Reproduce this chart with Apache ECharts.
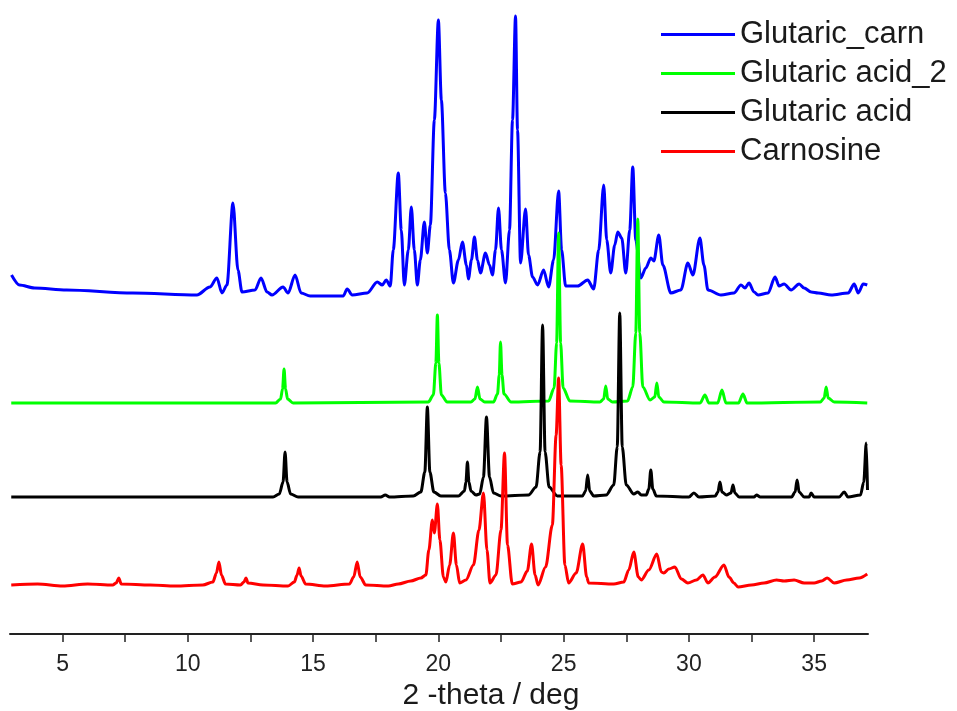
<!DOCTYPE html>
<html>
<head>
<meta charset="utf-8">
<script src="https://cdn.jsdelivr.net/npm/echarts@6/dist/echarts.min.js"></script>
<style>html,body{margin:0;padding:0;background:#fff}#chart{width:957px;height:711px}</style>
</head>
<body>
<div id="chart"></div>
<script>
// Series names (legend order)
const seriesNames = ['Glutaric_carn', 'Glutaric acid_2', 'Glutaric acid', 'Carnosine'];
const seriesColors = ['#0000ff', '#00ff00', '#000000', '#ff0000'];
// Vertical offsets used to stack the patterns
const offsets = [339, 231, 137, 49];

// x tick values (2-theta / deg)
const tickLabels = [5, 10, 15, 20, 25, 30, 35];
const tickMarks = [5, 7.5, 10, 12.5, 15, 17.5, 20, 22.5, 25, 27.5, 30, 32.5, 35];

// [2-theta, intensity]
const glutaricCarn = [
  [2.96,20],[3.28,10],[3.88,7],[5.16,5],[7.8,2],[10.36,0],[10.88,8],[11.16,17],[11.36,2],[11.56,10],
  [11.8,92],[12.0,25],[12.16,3],[12.68,5],[12.92,17],[13.16,3],[13.36,0],[13.8,8],[14.0,2],[14.28,20],
  [14.52,2],[14.88,-1],[16.2,-1],[16.36,6],[16.56,0],[17.16,2],[17.56,13],[17.76,10],[17.92,15],[18.08,9],
  [18.2,45],[18.4,122],[18.52,65],[18.64,10],[18.8,45],[18.92,88],[19.04,45],[19.16,10],[19.28,35],[19.44,73],
  [19.56,42],[19.68,70],[19.84,175],[20.0,275],[20.12,195],[20.28,102],[20.44,45],[20.6,12],[20.8,35],[20.96,53],
  [21.12,30],[21.2,16],[21.32,35],[21.44,58],[21.56,35],[21.68,22],[21.88,42],[22.04,30],[22.16,20],[22.28,45],
  [22.4,87],[22.52,45],[22.68,12],[22.84,65],[22.96,175],[23.08,279],[23.16,165],[23.28,32],[23.48,86],[23.6,40],
  [23.76,18],[23.96,10],[24.2,25],[24.4,8],[24.6,35],[24.8,104],[24.92,45],[25.08,9],[25.56,9],[25.96,15],
  [26.2,6],[26.4,45],[26.6,110],[26.72,55],[26.88,22],[27.04,50],[27.16,63],[27.32,57],[27.48,22],[27.64,65],
  [27.76,128],[27.88,55],[28.08,17],[28.28,27],[28.48,37],[28.6,34],[28.8,60],[28.96,30],[29.28,2],[29.68,5],
  [29.96,32],[30.16,20],[30.44,57],[30.6,30],[30.76,5],[31.28,0],[31.8,2],[32.08,10],[32.24,7],[32.4,12],
  [32.6,3],[32.76,0],[33.16,2],[33.44,18],[33.6,9],[33.8,11],[34.08,5],[34.4,11],[34.6,7],[34.88,3],
  [35.16,2],[35.68,0],[36.36,2],[36.6,11],[36.76,2],[36.96,11],[37.12,10]
];
const glutaricAcid2 = [
  [2.95,0],[13.5,0],[13.7,4],[13.78,14],[13.84,34],[13.9,14],[13.98,4],[14.2,0],
  [19.6,1],[19.8,8],[19.9,40],[19.96,88],[20.02,40],[20.12,8],[20.35,1],
  [21.3,1],[21.46,4],[21.56,16],[21.66,4],[21.85,1],
  [22.2,1],[22.36,9],[22.43,28],[22.48,61],[22.54,28],[22.62,9],[22.9,1],
  [24.4,2],[24.62,15],[24.72,60],[24.8,170],[24.88,60],[24.98,15],[25.25,2],
  [26.45,1],[26.6,4],[26.68,17],[26.76,4],[26.95,1],
  [27.55,2],[27.76,16],[27.88,70],[27.96,184],[28.04,70],[28.16,16],[28.45,3],
  [28.64,6],[28.72,20],[28.8,6],[29.0,1],
  [30.45,0],[30.64,8],[30.8,0],
  [31.15,0],[31.32,13],[31.48,0],
  [31.98,0],[32.16,9],[32.32,0],
  [35.25,1],[35.4,5],[35.48,16],[35.56,5],[35.8,1],[37.12,0]
];
const glutaricAcid = [
  [2.95,0],[13.4,0],[13.65,3],[13.8,15],[13.88,45],[13.96,15],[14.1,3],[14.4,0],
  [17.7,0],[17.88,2],[18.05,0],
  [19.0,1],[19.3,5],[19.46,25],[19.56,90],[19.66,25],[19.82,5],[20.1,1],
  [20.8,1],[21.04,6],[21.1,15],[21.16,35],[21.22,15],[21.3,6],[21.5,2],
  [21.65,3],[21.8,20],[21.92,80],[22.04,20],[22.2,4],[22.5,1],
  [23.6,2],[23.9,10],[24.06,45],[24.16,172],[24.26,45],[24.42,10],[24.75,1],
  [25.75,1],[25.88,6],[25.96,22],[26.04,6],[26.2,1],
  [26.7,2],[27.0,12],[27.14,50],[27.24,184],[27.34,50],[27.5,12],[27.8,3],[27.96,5],[28.1,2],
  [28.3,2],[28.4,8],[28.48,27],[28.56,8],[28.7,1],
  [30.0,0],[30.2,4],[30.4,0],
  [31.05,1],[31.16,5],[31.24,15],[31.32,5],[31.5,2],[31.68,4],[31.76,12],[31.84,4],[32.0,0],
  [32.6,0],[32.7,2],[32.85,0],
  [34.1,0],[34.24,5],[34.32,17],[34.4,5],[34.6,0],
  [34.8,0],[34.88,4],[35.0,0],
  [36.0,0],[36.2,5],[36.35,0],
  [36.85,2],[36.98,15],[37.08,54],[37.13,7]
];
const carnosine = [
  [2.95,0],[4.0,1],[5.0,-1],[6.0,1],[7.0,0],[7.14,2],[7.24,7],[7.34,1],[8.5,0],[9.5,-1],
  [10.6,0],[11.0,3],[11.14,12],[11.24,23],[11.34,10],[11.5,1],[12.1,0],[12.24,3],[12.32,7],[12.4,2],
  [13.0,0],[14.0,-1],[14.25,3],[14.36,10],[14.44,17],[14.52,9],[14.7,1],[15.5,-1],[16.45,1],[16.62,8],
  [16.76,23],[16.88,8],[17.1,0],[18.0,-1],[18.4,1],[18.9,4],[19.3,7],[19.5,10],[19.62,35],[19.76,65],
  [19.84,52],[19.96,81],[20.06,45],[20.2,8],[20.3,3],[20.45,20],[20.6,52],[20.72,20],[20.85,2],[21.1,5],
  [21.4,20],[21.62,55],[21.8,92],[21.94,35],[22.06,2],[22.3,10],[22.5,55],[22.64,132],[22.76,40],[22.95,1],
  [23.3,3],[23.55,14],[23.72,41],[23.86,10],[23.98,0],[24.28,18],[24.55,60],[24.7,150],[24.8,207],[24.9,120],
  [25.05,20],[25.2,2],[25.5,12],[25.76,41],[25.92,8],[26.0,2],[27.0,1],[27.4,3],[27.6,15],[27.8,33],
  [27.98,8],[28.1,5],[28.4,15],[28.72,31],[28.9,13],[29.0,12],[29.2,16],[29.44,18],[29.7,6],[29.96,2],
  [30.3,5],[30.56,10],[30.76,2],[31.04,8],[31.4,20],[31.6,8],[31.8,2],[31.96,-2],[32.5,0],[33.0,2],
  [33.5,5],[33.8,4],[34.2,5],[34.6,2],[35.0,2],[35.3,4],[35.52,7],[35.8,2],[36.3,5],[36.8,7],[37.12,11]
];

const patterns = [glutaricCarn, glutaricAcid2, glutaricAcid, carnosine];

const chart = echarts.init(document.getElementById('chart'), null, {renderer: 'canvas'});
const font = 'Liberation Sans, Arial, sans-serif';

chart.setOption({
  animation: false,
  backgroundColor: '#ffffff',
  grid: {left: 10, right: 89, top: 0, bottom: 77, containLabel: false, outerBoundsMode: 'none'},
  legend: {
    data: seriesNames,
    orient: 'vertical',
    left: 661,
    top: 19,
    padding: 0,
    itemGap: 8,
    itemWidth: 74,
    itemHeight: 3,
    icon: 'rect',
    textStyle: {fontFamily: font, fontSize: 31, color: '#1a1a1a', lineHeight: 31}
  },
  xAxis: {
    type: 'value',
    min: 2.9,
    max: 37.15,
    name: '2 -theta / deg',
    nameLocation: 'middle',
    nameGap: 34,
    nameTextStyle: {fontFamily: font, fontSize: 30, color: '#1a1a1a', padding: [0, 0, 0, 104]},
    axisLine: {show: true, lineStyle: {color: '#222', width: 2}},
    axisTick: {show: true, customValues: tickMarks, length: 8, lineStyle: {color: '#222', width: 1.5}},
    axisLabel: {customValues: tickLabels, fontFamily: font, fontSize: 23, color: '#222', margin: 19},
    splitLine: {show: false}
  },
  yAxis: {type: 'value', min: 0, max: 634, show: false, splitLine: {show: false}},
  series: patterns.map((pts, i) => ({
    name: seriesNames[i],
    type: 'line',
    showSymbol: false,
    symbol: 'none',
    smooth: 0.3,
    smoothMonotone: 'x',
    color: seriesColors[i],
    lineStyle: {color: seriesColors[i], width: 3},
    z: 2 + i,
    data: pts.map(p => [p[0], p[1] + offsets[i]])
  }))
});
</script>
</body>
</html>
